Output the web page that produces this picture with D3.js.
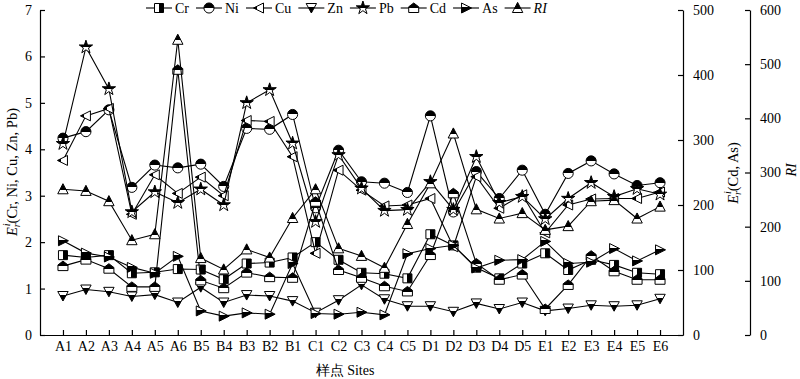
<!DOCTYPE html>
<html>
<head>
<meta charset="utf-8">
<script src="https://cdn.jsdelivr.net/npm/d3@7"></script>
<style>
  body { margin: 0; background: #fff; }
  text { font-family: "Liberation Serif", "Times New Roman", serif; }
</style>
</head>
<body>
<div id="chart"></div>
<script>
// sites along the x axis
const sites = ["A1","A2","A3","A4","A5","A6","B5","B4","B3","B2","B1","C1","C2","C3","C4","C5","D1","D2","D3","D4","D5","E1","E2","E3","E4","E5","E6"];

// left axis series (Er of Cr, Ni, Cu, Zn, Pb)
const crVals = [1.72,1.67,1.72,1.33,1.35,1.42,1.41,1.20,1.54,1.56,1.67,2.00,1.62,1.34,1.32,1.22,2.17,1.93,1.45,1.22,1.54,1.76,1.40,1.62,1.51,1.34,1.31];
const niVals = [4.24,4.38,4.85,3.18,3.66,3.60,3.68,3.20,4.45,4.43,4.75,2.74,3.98,3.30,3.27,3.07,4.72,2.65,3.52,2.94,3.55,2.60,3.48,3.75,3.47,3.22,3.28];
const cuVals = [3.76,4.72,4.88,2.60,3.45,3.05,3.40,3.00,4.62,4.60,3.84,1.76,3.55,3.12,2.78,2.80,2.94,1.90,3.41,2.73,3.02,2.20,2.80,2.93,2.94,2.94,3.08];
const znVals = [0.84,0.98,0.93,0.83,0.87,0.70,1.03,0.70,0.86,0.84,0.73,0.48,0.75,1.08,0.77,0.62,0.62,0.50,0.68,0.56,0.70,0.52,0.57,0.64,0.62,0.64,0.78];
const pbVals = [4.12,6.20,5.30,2.65,3.08,2.85,3.14,2.80,5.00,5.28,4.13,2.44,3.88,3.16,2.68,2.70,3.30,2.70,3.84,2.85,2.98,2.50,2.94,3.28,2.98,3.15,3.03];

// right axis series (Er of Cd, As)
const cdVals = [106,116,102,74,74,408,84,72,96,89,88,205,100,88,75,67,123,218,110,85,93,40,77,122,98,85,85];
const asVals = [145,126,120,104,95,121,37,29,34,32,110,33,32,35,31,125,133,138,103,115,116,144,110,112,133,114,131];

// second right axis (RI)
const riVals = [269,266,247,175,186,545,142,121,158,143,216,269,160,146,124,205,280,372,232,215,225,194,201,247,249,215,237];

const leftTicks = [0,1,2,3,4,5,6,7];
const erTicks = [0,100,200,300,400,500];
const riTicks = [0,100,200,300,400,500,600];

const width = 800, height = 379;
const plotLeft = 40, plotRight = 683, plotTop = 10, plotBottom = 335;
const riAxisX = 750;

const svg = d3.select("#chart")
  .append("svg")
  .attr("width", width)
  .attr("height", height);

// half filled marker fills
const defs = svg.append("defs");
function halfFill(id, vertical, stop, first, second) {
  const g = defs.append("linearGradient").attr("id", id)
    .attr("x1", 0).attr("y1", 0)
    .attr("x2", vertical ? 0 : 1).attr("y2", vertical ? 1 : 0);
  g.append("stop").attr("offset", 0).attr("stop-color", first);
  g.append("stop").attr("offset", stop).attr("stop-color", first);
  g.append("stop").attr("offset", stop).attr("stop-color", second);
  g.append("stop").attr("offset", 1).attr("stop-color", second);
}
halfFill("fCr", false, 0.45, "#fff", "#000");
halfFill("fNi", true, 0.5, "#000", "#fff");
halfFill("fCu", false, 0.4, "#000", "#fff");
halfFill("fZn", true, 0.35, "#fff", "#000");
halfFill("fPb", true, 0.55, "#000", "#fff");
halfFill("fCd", true, 0.55, "#000", "#fff");
halfFill("fAs", true, 0.4, "#fff", "#000");
halfFill("fRI", true, 0.62, "#000", "#fff");

// scales
const x = d3.scalePoint().domain(sites).range([plotLeft, plotRight]).padding(1);
const yLeft = d3.scaleLinear().domain([0, 7]).range([plotBottom, plotTop]);
const yEr = d3.scaleLinear().domain([0, 500]).range([plotBottom, plotTop]);
const yRI = d3.scaleLinear().domain([0, 600]).range([plotBottom, plotTop]);

// axes
const axisFont = 14;
svg.append("g")
  .attr("transform", `translate(${plotLeft},0)`)
  .call(d3.axisLeft(yLeft).tickValues(leftTicks).tickFormat(d3.format("d"))
    .tickSize(-5).tickSizeOuter(0).tickPadding(8))
  .call(g => g.selectAll("text").attr("font-size", axisFont));

svg.append("g")
  .attr("transform", `translate(0,${plotBottom})`)
  .call(d3.axisBottom(x).tickSize(-5).tickSizeOuter(0).tickPadding(6))
  .call(g => g.selectAll("text").attr("font-size", axisFont));

svg.append("g")
  .attr("transform", `translate(${plotRight},0)`)
  .call(d3.axisRight(yEr).tickValues(erTicks).tickFormat(d3.format("d"))
    .tickSize(-5).tickSizeOuter(0).tickPadding(10))
  .call(g => g.selectAll("text").attr("font-size", axisFont));

svg.append("g")
  .attr("transform", `translate(${riAxisX},0)`)
  .call(d3.axisRight(yRI).tickValues(riTicks).tickFormat(d3.format("d"))
    .tickSize(-5).tickSizeOuter(0).tickPadding(10))
  .call(g => g.selectAll("text").attr("font-size", axisFont));

svg.selectAll(".domain").attr("stroke", "#000").attr("stroke-width", 1.2);
svg.selectAll(".tick line").attr("stroke", "#000").attr("stroke-width", 1.2);
svg.selectAll(".tick text").attr("fill", "#000");

// marker shapes
const shapes = {
  square: "M-4.5,-4.5H4.5V4.5H-4.5Z",
  circle: d3.symbol(d3.symbolCircle, 80)(),
  left: "M-5.5,0L4.5,-5L4.5,5Z",
  down: "M-5.2,-4.5L5.2,-4.5L0,5Z",
  star: d3.symbol(d3.symbolStar, 55)(),
  house: "M0,-5L5,-1.2L5,4.5L-5,4.5L-5,-1.2Z",
  right: "M5.5,0L-4.5,-5L-4.5,5Z",
  up: "M0,-5.6L5.2,4.5L-5.2,4.5Z"
};

const series = [
  { name: "Cr", values: crVals, y: yLeft, shape: "square", fill: "url(#fCr)" },
  { name: "Ni", values: niVals, y: yLeft, shape: "circle", fill: "url(#fNi)" },
  { name: "Cu", values: cuVals, y: yLeft, shape: "left", fill: "url(#fCu)" },
  { name: "Zn", values: znVals, y: yLeft, shape: "down", fill: "url(#fZn)" },
  { name: "Pb", values: pbVals, y: yLeft, shape: "star", fill: "url(#fPb)" },
  { name: "Cd", values: cdVals, y: yEr, shape: "house", fill: "url(#fCd)" },
  { name: "As", values: asVals, y: yEr, shape: "right", fill: "url(#fAs)" },
  { name: "RI", values: riVals, y: yRI, shape: "up", fill: "url(#fRI)", italic: true }
];

series.forEach(s => {
  const pts = sites.map((site, i) => ({ site: site, v: s.values[i] }));
  const line = d3.line().x(d => x(d.site)).y(d => s.y(d.v));
  svg.append("path")
    .datum(pts)
    .attr("d", line)
    .attr("fill", "none")
    .attr("stroke", "#000")
    .attr("stroke-width", 1.1);
  svg.append("g")
    .selectAll("path")
    .data(pts)
    .join("path")
    .attr("d", shapes[s.shape])
    .attr("transform", d => `translate(${x(d.site)},${s.y(d.v)})`)
    .attr("fill", s.fill)
    .attr("stroke", "#000")
    .attr("stroke-width", 1);
});

// legend along the top
let lx = 146;
const ly = 8;
series.forEach(s => {
  const g = svg.append("g");
  g.append("line")
    .attr("x1", lx).attr("x2", lx + 26)
    .attr("y1", ly).attr("y2", ly)
    .attr("stroke", "#000").attr("stroke-width", 1.1);
  g.append("path")
    .attr("d", shapes[s.shape])
    .attr("transform", `translate(${lx + 13},${ly})`)
    .attr("fill", s.fill).attr("stroke", "#000");
  const t = g.append("text")
    .attr("x", lx + 29).attr("y", ly + 5)
    .attr("font-size", 14)
    .attr("font-style", s.italic ? "italic" : "normal")
    .text(s.name);
  lx += 29 + t.node().getComputedTextLength() + 7;
});

// axis titles
function erLabel(g, rest) {
  const t = g.append("text").attr("text-anchor", "middle").attr("font-size", 14.5);
  t.append("tspan").attr("font-style", "italic").text("E");
  t.append("tspan").attr("font-style", "italic").attr("font-size", 10).attr("dy", 3).text("r");
  t.append("tspan").attr("font-style", "italic").attr("font-size", 10).attr("dy", -10).attr("dx", -3).text("i");
  t.append("tspan").attr("dy", 7).text(rest);
}
erLabel(svg.append("g").attr("transform", "translate(17,172) rotate(-90)"), "(Cr, Ni, Cu, Zn, Pb)");
erLabel(svg.append("g").attr("transform", "translate(738,173) rotate(-90)"), "(Cd, As)");

svg.append("text")
  .attr("transform", "translate(796,170) rotate(-90)")
  .attr("text-anchor", "middle")
  .attr("font-size", 14)
  .attr("font-style", "italic")
  .text("RI");

svg.append("text")
  .attr("x", 345).attr("y", 375)
  .attr("text-anchor", "middle")
  .attr("font-size", 14)
  .text("样点 Sites");
</script>
</body>
</html>
